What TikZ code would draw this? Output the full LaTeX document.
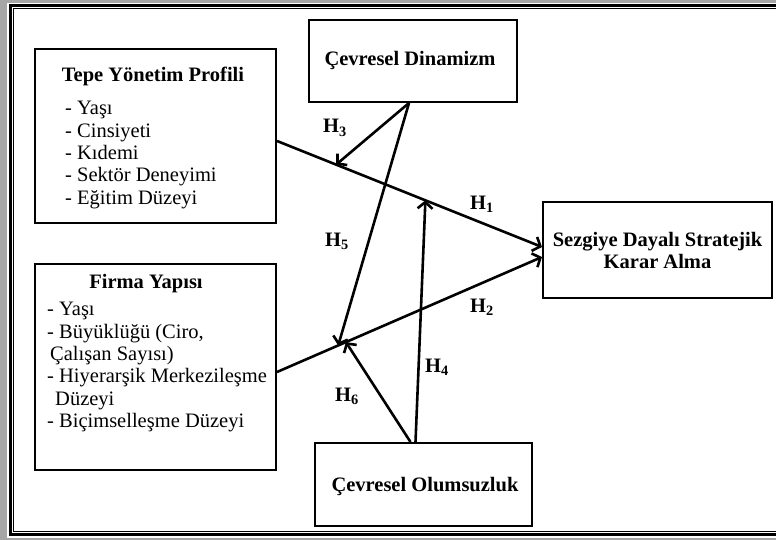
\documentclass[tikz,border=0pt]{standalone}
\usepackage{fontspec}
\setmainfont{Liberation Serif}
\usetikzlibrary{arrows.meta}

\tikzset{
  kutu/.style={draw, line width=2pt, inner sep=0pt},
  baslik/.style={font=\fontsize{20.5}{22}\selectfont\bfseries, inner sep=0pt},
  liste/.style={font=\fontsize{20.5}{22.4}\selectfont, align=left, anchor=north west, inner sep=0pt},
  hip/.style={font=\fontsize{20.5}{22}\selectfont\bfseries, anchor=base west, inner sep=0pt},
  ok/.style={line width=2.6pt, ->, >={Straight Barb[length=6.5pt,width=15pt]}}
}

\begin{document}
\begin{tikzpicture}[x=1pt, y=-1pt]
  \useasboundingbox (0,0) rectangle (776,540);
  % frame
  \fill[black!35] (0,0) rectangle (776,540);
  \fill[white] (7,3) rectangle (790,537.5);
  \draw[line width=2.4pt] (10.5,5.5) rectangle (800,534.5);
  \draw[line width=0.7pt] (13.6,8.4) rectangle (800,531.8);

  % boxes
  \node[kutu, minimum width=241pt, minimum height=174pt] (tepe) at (155.5,136) {};
  \node[kutu, minimum width=241pt, minimum height=206pt] (firma) at (155.5,367) {};
  \node[kutu, minimum width=208pt, minimum height=82pt] (din) at (413,61) {};
  \node[kutu, minimum width=217pt, minimum height=83pt] (olum) at (423.5,484.5) {};
  \node[kutu, minimum width=229pt, minimum height=96pt, align=center,
        font=\fontsize{20.5}{22}\selectfont\bfseries] (sez) at (657.5,250)
        {Sezgiye Dayalı Stratejik\\Karar Alma};

  % box texts
  \node[baslik] (tepebaslik) at (153,76) {Tepe Yönetim Profili};
  \node[liste] (tepeliste) at (65,101)
    {- Yaşı\\- Cinsiyeti\\- Kıdemi\\- Sektör Deneyimi\\- Eğitim Düzeyi};
  \node[baslik] (firmabaslik) at (146,284) {Firma Yapısı};
  \node[liste] (firmaliste) at (47,302)
    {- Yaşı\\- Büyüklüğü (Ciro,\\\hspace{3pt}Çalışan Sayısı)\\- Hiyerarşik Merkezileşme\\\hspace{8pt}Düzeyi\\- Biçimselleşme Düzeyi};
  \node[baslik] (dinbaslik) at (410,61) {Çevresel Dinamizm};
  \node[baslik] (olumbaslik) at (425,486) {Çevresel Olumsuzluk};

  % main effects
  \draw[ok] ([yshift=-5pt]tepe.east)
    -- coordinate[pos=0.223] (h3uc) coordinate[pos=0.56] (h4uc)
    ([yshift=3pt]sez.west);
  \draw[ok] ([yshift=-5pt]firma.east)
    -- coordinate[pos=0.231] (h5uc) coordinate[pos=0.26] (h6uc)
    ([yshift=-7pt]sez.west);

  % moderators
  \path[ok]
  ([xshift=-4pt]din.south) edge (h3uc)
                           edge (h5uc)
  ([xshift=-13pt]olum.north) edge (h6uc)
  ([xshift=-8pt]olum.north) edge (h4uc)
  ;

  % hypothesis labels
  \node[hip] (lh1) at (470,209) {H\textsubscript{1}};
  \node[hip] (lh2) at (470,312) {H\textsubscript{2}};
  \node[hip] (lh3) at (323,133) {H\textsubscript{3}};
  \node[hip] (lh4) at (425,372) {H\textsubscript{4}};
  \node[hip] (lh5) at (325,246) {H\textsubscript{5}};
  \node[hip] (lh6) at (335,401) {H\textsubscript{6}};
\end{tikzpicture}
\end{document}
